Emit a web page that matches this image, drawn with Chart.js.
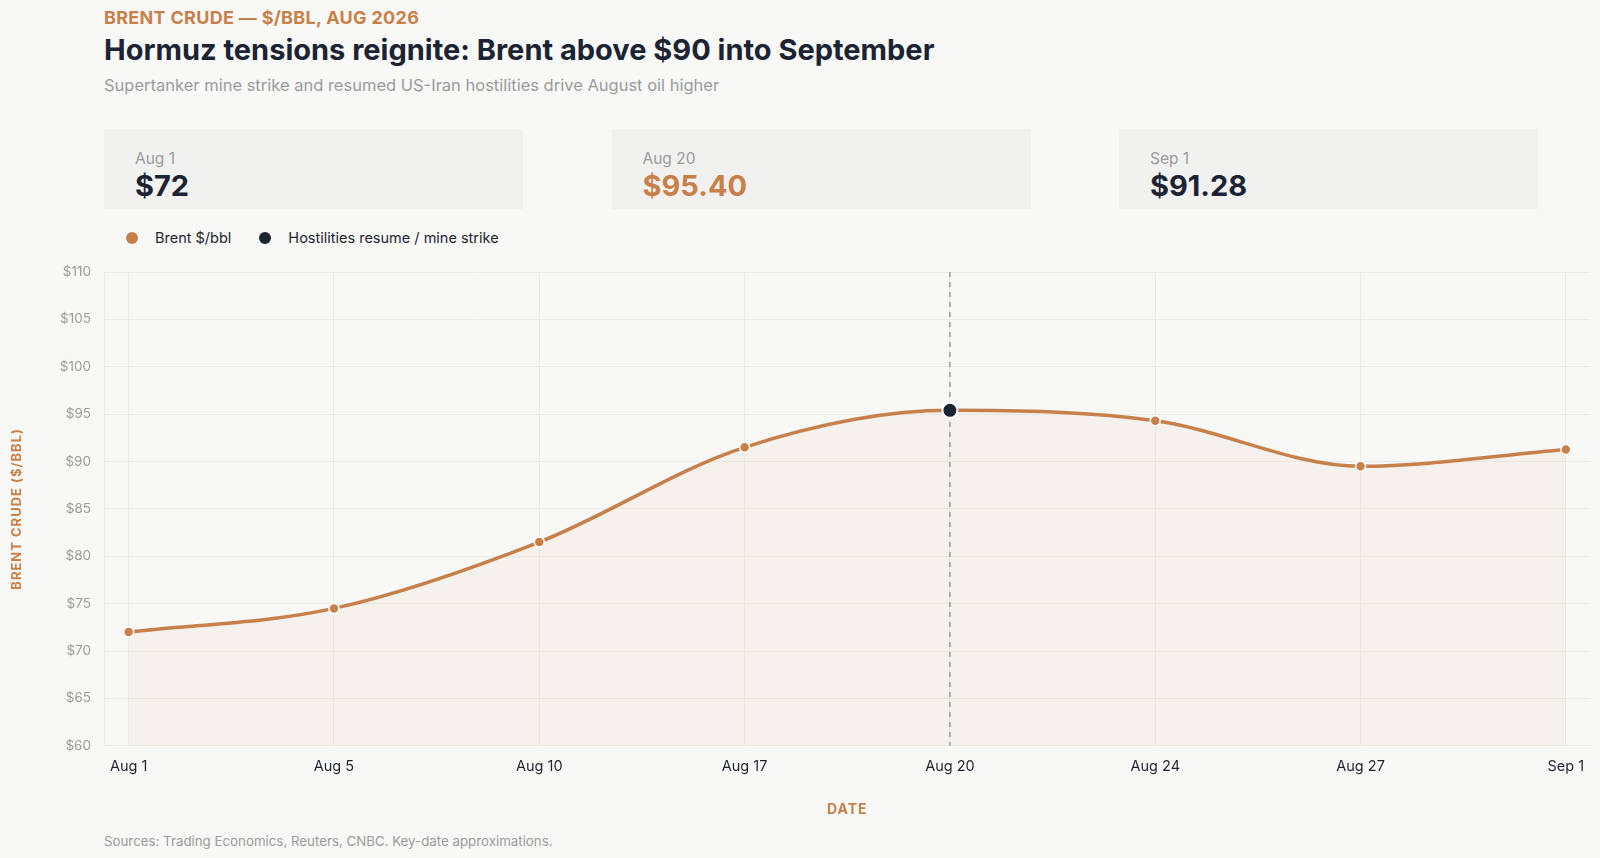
<!DOCTYPE html>
<html>
<head>
<meta charset="utf-8">
<script src="https://cdn.jsdelivr.net/npm/chart.js@4.4.1/dist/chart.umd.min.js"></script>
<style>
    html, body {
        margin: 0;
        padding: 0;
        background: #f8f8f7;
        font-family: Inter, "Noto Sans", sans-serif;
    }
    .page {
        position: relative;
        width: 1600px;
        height: 858px;
        overflow: hidden;
    }
    .kicker {
        position: absolute;
        left: 104px;
        top: 7px;
        font-size: 18px;
        letter-spacing: 0.3px;
        font-weight: 700;
        color: #c8804b;
    }
    .title {
        position: absolute;
        left: 104px;
        top: 32px;
        font-size: 29px;
        font-weight: 700;
        color: #1c2333;
    }
    .subtitle {
        position: absolute;
        left: 104px;
        top: 75px;
        font-size: 16.5px;
        color: #9b9b9b;
    }
    .cards {
        position: absolute;
        left: 104px;
        top: 129px;
        display: flex;
        gap: 88.5px;
    }
    .card {
        width: 419px;
        height: 80px;
        background: #f1f1ef;
        box-sizing: border-box;
        padding: 20px 0 0 31px;
    }
    .card .label {
        font-size: 15.5px;
        color: #9b9b9b;
    }
    .card .value {
        font-size: 29px;
        font-weight: 700;
        color: #1c2333;
    }
    .card .value.accent {
        color: #c8804b;
    }
    .legend {
        position: absolute;
        left: 126px;
        top: 229px;
        display: flex;
        align-items: center;
        font-size: 14.5px;
        color: #1f2430;
    }
    .legend .dot {
        width: 12px;
        height: 12px;
        border-radius: 50%;
        display: inline-block;
        margin-right: 17px;
    }
    .legend .item {
        display: flex;
        align-items: center;
        margin-right: 28px;
    }
    .chart-wrap {
        position: absolute;
        left: 0;
        top: 250px;
        width: 1600px;
        height: 580px;
    }
    .footer {
        position: absolute;
        left: 104px;
        top: 833px;
        font-size: 13.3px;
        color: #9b9b9b;
    }
</style>
</head>
<body>
<div class="page">
    <div class="kicker">BRENT CRUDE — $/BBL, AUG 2026</div>
    <div class="title">Hormuz tensions reignite: Brent above $90 into September</div>
    <div class="subtitle">Supertanker mine strike and resumed US-Iran hostilities drive August oil higher</div>

    <div class="cards">
        <div class="card"><div class="label">Aug 1</div><div class="value">$72</div></div>
        <div class="card"><div class="label">Aug 20</div><div class="value accent">$95.40</div></div>
        <div class="card"><div class="label">Sep 1</div><div class="value">$91.28</div></div>
    </div>

    <div class="legend">
        <div class="item"><span class="dot" style="background:#c8804b"></span>Brent $/bbl</div>
        <div class="item"><span class="dot" style="background:#1c2333"></span>Hostilities resume / mine strike</div>
    </div>

    <div class="chart-wrap"><canvas id="brent_chart"></canvas></div>

    <div class="footer">Sources: Trading Economics, Reuters, CNBC. Key-date approximations.</div>
</div>

<script>
const dateLabels = ['Aug 1', 'Aug 5', 'Aug 10', 'Aug 17', 'Aug 20', 'Aug 24', 'Aug 27', 'Sep 1'];
const brentPrices = [72, 74.5, 81.5, 91.5, 95.4, 94.3, 89.5, 91.28];
const eventIndex = 4;
const yTicks = [60, 65, 70, 75, 80, 85, 90, 95, 100, 105, 110];

const accent = '#c8804b';
const navy = '#1c2333';
const gridColor = '#ecebe8';

const brentPoints = brentPrices.map((price, i) => ({ x: i, y: price }));
const eventPoints = [{ x: eventIndex, y: brentPrices[eventIndex] }];

// dashed marker through the event date
const eventLine = {
    id: 'eventLine',
    beforeDatasetsDraw(chart) {
        const { ctx, chartArea, scales } = chart;
        const x = scales.x.getPixelForValue(eventIndex);
        ctx.save();
        ctx.strokeStyle = '#9a9a9a';
        ctx.lineWidth = 1.5;
        ctx.setLineDash([5, 5]);
        ctx.beginPath();
        ctx.moveTo(x, chartArea.top);
        ctx.lineTo(x, chartArea.bottom);
        ctx.stroke();
        ctx.restore();
    },
};

// axis titles are letter-spaced caps
const spacedTitles = {
    id: 'spacedTitles',
    beforeDraw(chart) {
        ['x', 'y'].forEach((id) => {
            const scale = chart.scales[id];
            if (scale._spacedTitle) return;
            const drawTitle = scale.drawTitle.bind(scale);
            scale.drawTitle = () => {
                chart.ctx.save();
                chart.ctx.letterSpacing = '1px';
                drawTitle();
                chart.ctx.restore();
            };
            scale._spacedTitle = true;
        });
    },
};

const brentChartCanvas = document.getElementById('brent_chart');
const brentChartConfig = {
    type: 'line',
    data: {
        datasets: [{
            label: 'Hostilities resume / mine strike',
            data: eventPoints,
            showLine: false,
            pointRadius: 7.5,
            pointBackgroundColor: navy,
            pointBorderColor: '#ffffff',
            pointBorderWidth: 2,
            order: 0,
        }, {
            label: 'Brent $/bbl',
            data: brentPoints,
            borderColor: accent,
            borderWidth: 3.5,
            backgroundColor: 'rgba(200, 128, 75, 0.06)',
            fill: 'start',
            cubicInterpolationMode: 'monotone',
            pointRadius: 5,
            pointBackgroundColor: accent,
            pointBorderColor: '#ffffff',
            pointBorderWidth: 1.5,
            order: 1,
        }],
    },
    options: {
        responsive: true,
        maintainAspectRatio: false,
        animation: {
            duration: 0,
        },
        layout: {
            padding: {
                top: 22,
                right: 9,
                bottom: 8,
            },
        },
        plugins: {
            legend: {
                display: false,
            },
            tooltip: {
                enabled: false,
            },
        },
        scales: {
            x: {
                type: 'linear',
                min: -0.12,
                max: dateLabels.length - 1 + 0.12,
                afterBuildTicks: (scale) => {
                    scale.ticks = dateLabels.map((label, i) => ({ value: i }));
                },
                ticks: {
                    callback: (value) => dateLabels[value],
                    color: '#1f2430',
                    font: { family: 'Inter', size: 14.5 },
                    padding: 12,
                    maxRotation: 0,
                },
                grid: {
                    color: gridColor,
                    drawTicks: false,
                },
                border: {
                    color: gridColor,
                },
                title: {
                    display: true,
                    text: 'DATE',
                    color: accent,
                    font: { family: 'Inter', size: 14, weight: '700' },
                    padding: { top: 14, bottom: 4 },
                },
            },
            y: {
                min: 60,
                max: 110,
                afterBuildTicks: (scale) => {
                    scale.ticks = yTicks.map((value) => ({ value: value }));
                },
                afterFit: (scale) => {
                    scale.width = 104;
                },
                ticks: {
                    callback: (value) => '$' + value,
                    color: '#9b9b9b',
                    font: { family: 'Inter', size: 13.5 },
                    padding: 13,
                },
                grid: {
                    color: gridColor,
                    drawTicks: false,
                },
                border: {
                    color: gridColor,
                },
                title: {
                    display: true,
                    text: 'BRENT CRUDE ($/BBL)',
                    color: accent,
                    font: { family: 'Inter', size: 13, weight: '700' },
                    padding: { top: 9, bottom: 0 },
                },
            },
        },
    },
    plugins: [eventLine, spacedTitles],
}
const brentChart = new Chart(brentChartCanvas, brentChartConfig);
</script>
</body>
</html>
